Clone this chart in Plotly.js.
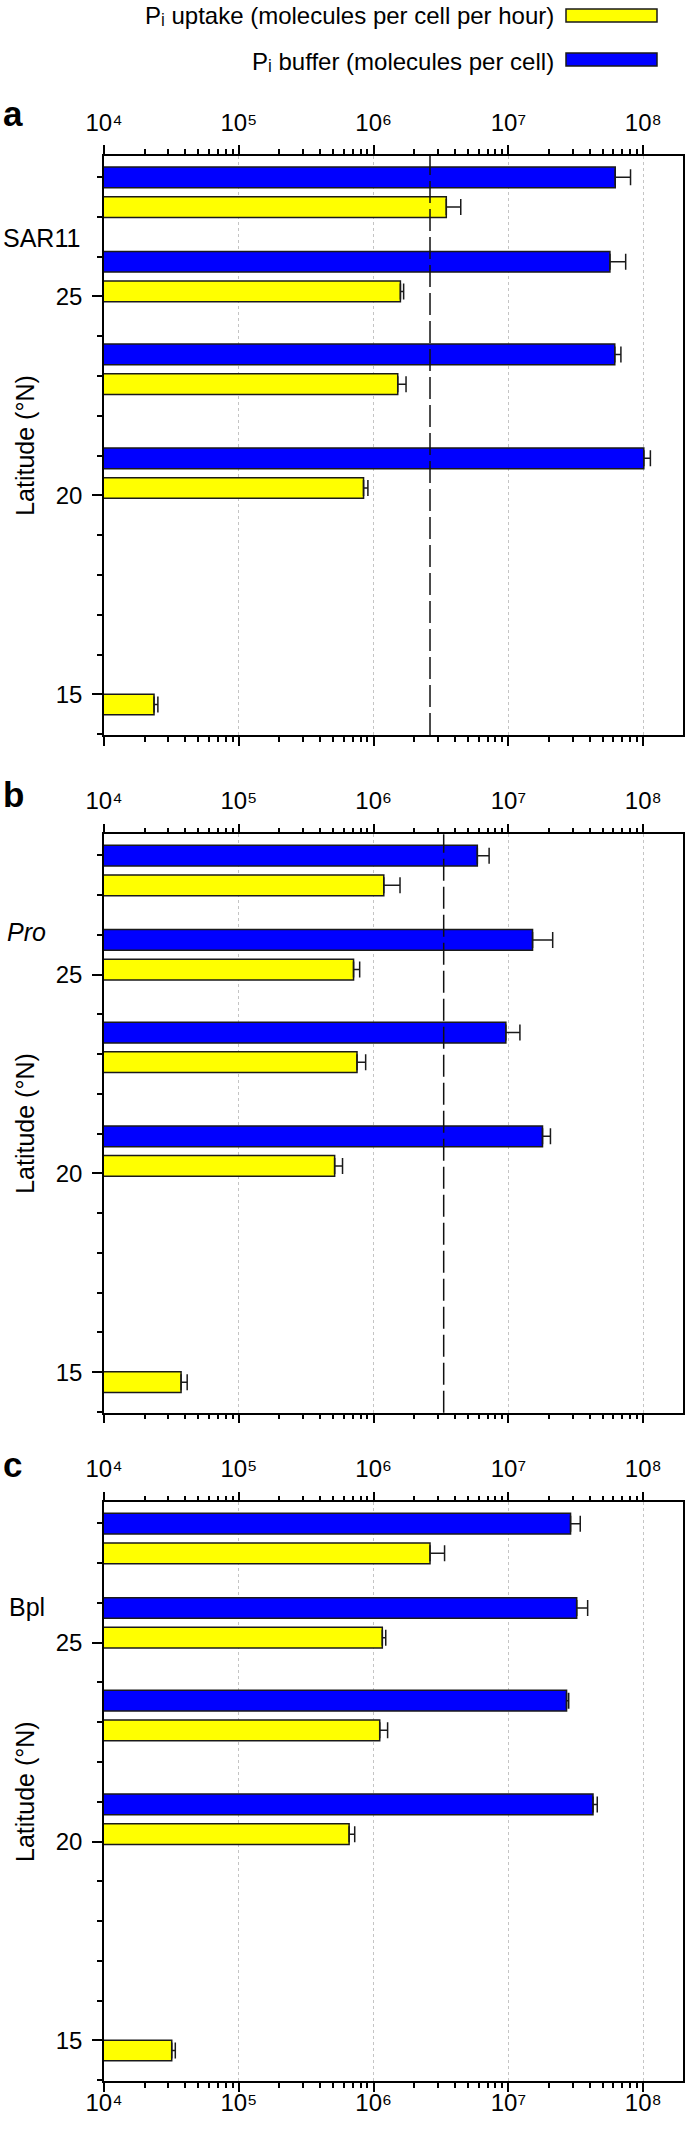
<!DOCTYPE html>
<html><head><meta charset="utf-8">
<script src="https://cdn.plot.ly/plotly-3.0.1.min.js"></script>
<style>html,body{margin:0;padding:0;background:#fff}#chart{width:685px;height:2133px}</style>
</head><body><div id="chart"></div>
<script>
// ---- data ----
const latitudes = [27.62, 25.5, 23.17, 20.56, 15.12];
const organisms = ['SAR11', '<i>Pro</i>', 'Bpl'];
const panelLetters = ['a', 'b', 'c'];

const sar11Uptake    = [3.46e6, 1.58e6, 1.51e6, 8.42e5, 2.35e4];
const sar11UptakeErr = [0.97e6, 0.09e6, 0.23e6, 0.65e5, 0.16e4];
const sar11Buffer    = [6.2e7, 5.66e7, 6.15e7, 1.01e8, null];
const sar11BufferErr = [1.85e7, 1.75e7, 0.68e7, 0.12e8, null];

const proUptake    = [1.19e6, 7.1e5, 7.53e5, 5.14e5, 3.73e4];
const proUptakeErr = [0.38e6, 0.78e5, 1.2e5, 0.74e5, 0.41e4];
const proBuffer    = [5.88e6, 1.51e7, 9.57e6, 1.79e7, null];
const proBufferErr = [1.31e6, 0.62e7, 2.6e6, 0.26e7, null];

const bplUptake    = [2.62e6, 1.16e6, 1.11e6, 6.58e5, 3.18e4];
const bplUptakeErr = [0.74e6, 0.07e6, 0.16e6, 0.66e5, 0.2e4];
const bplBuffer    = [2.89e7, 3.21e7, 2.70e7, 4.24e7, null];
const bplBufferErr = [0.52e7, 0.66e7, 0.1e7, 0.32e7, null];

const thresholds = [2.62e6, 3.31e6, null];

const xTickVals = [1e4, 1e5, 1e6, 1e7, 1e8];
const xTickText = ['10⁴', '10⁵', '10⁶', '10⁷', '10⁸'];
const yTickVals = [15, 20, 25];
const yTickText = ['15', '20', '25'];
const legendNames = ['Pᵢ uptake (molecules per cell per hour)', 'Pᵢ buffer (molecules per cell)'];
const yTitle = 'Latitude (°N)';

// ---- styling / layout ----
const W = 685, H = 2133;
const M = {l: 104, r: 2, t: 156, b: 52};
const PW = W - M.l - M.r, PH = H - M.t - M.b;
const px = x => (x - M.l) / PW;
const py = y => (H - M.b - y) / PH;
const FONT = 'Liberation Sans, Arial, Helvetica, DejaVu Sans, sans-serif';
const YELLOW = '#FFFF00', BLUE = '#0000FF', EDGE = '#1a1a1a';

const minorX = [];
for (let e = 4; e < 9; e++) for (let m = 2; m <= 9; m++) minorX.push(m * Math.pow(10, e));
const minorY = [];
for (let v = 14; v <= 28; v++) if (v % 5 !== 0) minorY.push(v);

const uptake = [sar11Uptake, proUptake, bplUptake];
const uptakeErr = [sar11UptakeErr, proUptakeErr, bplUptakeErr];
const buffer = [sar11Buffer, proBuffer, bplBuffer];
const bufferErr = [sar11BufferErr, proBufferErr, bplBufferErr];

const traces = [];
const sfx = ['', '2', '3'];
for (let i = 0; i < 3; i++) {
  const errStyle = arr => ({type: 'data', symmetric: false, array: arr,
    arrayminus: arr.map(() => 0), color: EDGE, thickness: 1.5, width: 8});
  traces.push({type: 'bar', orientation: 'h', name: legendNames[0],
    x: uptake[i], y: latitudes, offset: -0.633, width: 0.52,
    marker: {color: YELLOW, line: {color: EDGE, width: 1.5}},
    error_x: errStyle(uptakeErr[i]), xaxis: 'x' + sfx[i], yaxis: 'y' + sfx[i],
    showlegend: false});
  traces.push({type: 'bar', orientation: 'h', name: legendNames[1],
    x: buffer[i], y: latitudes, offset: 0.113, width: 0.52,
    marker: {color: BLUE, line: {color: EDGE, width: 1.5}},
    error_x: errStyle(bufferErr[i]), xaxis: 'x' + sfx[i], yaxis: 'y' + sfx[i],
    showlegend: false});
}
traces.push({type: 'scatter', x: [], y: [], xaxis: 'x4', yaxis: 'y3', showlegend: false, hoverinfo: 'skip'});

const tickFont = {family: FONT, size: 24, color: '#000'};
const xCommon = () => ({type: 'log', range: [4, 8.295], tickmode: 'array',
  tickvals: xTickVals, ticktext: xTickText, ticks: 'outside', ticklen: 9, tickwidth: 1.5,
  tickcolor: '#000', showline: true, linewidth: 1.5, linecolor: '#000', mirror: 'allticks',
  showgrid: true, gridcolor: '#c4c4c4', griddash: 'dot', gridwidth: 1, zeroline: false,
  tickfont: tickFont, ticklabelstandoff: 5, side: 'top',
  minor: {tickmode: 'array', tickvals: minorX, ticks: 'outside', ticklen: 5, tickwidth: 1.5,
          tickcolor: '#000', showgrid: false}});
const yCommon = () => ({range: [13.98, 28.53], tickmode: 'array', tickvals: yTickVals,
  ticktext: yTickText, ticks: 'outside', ticklen: 10, tickwidth: 1.5, tickcolor: '#000',
  showline: true, linewidth: 1.5, linecolor: '#000', mirror: true, showgrid: false,
  zeroline: false, tickfont: tickFont, ticklabelstandoff: 5,
  title: {text: yTitle, font: {family: FONT, size: 25, color: '#000'}, standoff: 14},
  minor: {tickmode: 'array', tickvals: minorY, ticks: 'outside', ticklen: 5, tickwidth: 1.5,
          tickcolor: '#000'}});

const panelTops = [156, 834.3, 1502.3], panelBottoms = [735, 1412.7, 2081];
const layout = {width: W, height: H, margin: M, paper_bgcolor: '#fff', plot_bgcolor: '#fff',
  barmode: 'overlay', showlegend: false, font: {family: FONT, size: 22, color: '#000'},
  hovermode: false, annotations: [], shapes: []};
for (let i = 0; i < 3; i++) {
  layout['xaxis' + sfx[i]] = Object.assign(xCommon(), {anchor: 'y' + sfx[i], domain: [0, 1]});
  layout['yaxis' + sfx[i]] = Object.assign(yCommon(), {anchor: 'x' + sfx[i],
    domain: [py(panelBottoms[i]), py(panelTops[i])]});
}
layout.xaxis4 = Object.assign(xCommon(), {side: 'bottom', overlaying: 'x3', anchor: 'y3',
  showgrid: false, showline: false, ticks: '', mirror: false,
  minor: {ticks: '', showgrid: false}});

// dashed thresholds
thresholds.forEach((t, i) => {
  if (t == null) return;
  layout.shapes.push({type: 'line', xref: 'x' + sfx[i], yref: 'y' + sfx[i] + ' domain',
    x0: t, x1: t, y0: 0, y1: 1, line: {color: '#111', width: 1.5, dash: '22px,6px'}});
});

// panel letters and organism labels
const letterY = [113, 794, 1465];
const orgY = [238, 931.7, 1606.7], orgX = [1, 5, 7];
for (let i = 0; i < 3; i++) {
  layout.annotations.push({xref: 'paper', yref: 'paper', x: px(1), y: py(letterY[i]),
    xanchor: 'left', yanchor: 'middle', showarrow: false, text: '<b>' + panelLetters[i] + '</b>',
    font: {family: FONT, size: 35, color: '#000'}});
  layout.annotations.push({xref: 'paper', yref: 'paper', x: px(orgX[i]), y: py(orgY[i]),
    xanchor: 'left', yanchor: 'middle', showarrow: false, text: organisms[i],
    font: {family: FONT, size: 25, color: '#000'}});
}

// legend (text left, swatch right)
const legColors = [YELLOW, BLUE];
const legTextY = [16, 61], legBox = [[9, 22], [53, 66]];
for (let k = 0; k < 2; k++) {
  layout.annotations.push({xref: 'paper', yref: 'paper', x: px(556), y: py(legTextY[k]),
    xanchor: 'right', yanchor: 'middle', showarrow: false, text: legendNames[k],
    font: {family: FONT, size: 24, color: '#000'}});
  layout.shapes.push({type: 'rect', xref: 'paper', yref: 'paper', x0: px(566), x1: px(657),
    y0: py(legBox[k][1]), y1: py(legBox[k][0]), fillcolor: legColors[k],
    line: {color: EDGE, width: 1.5}});
}

Plotly.newPlot('chart', traces, layout, {displayModeBar: false});
</script></body></html>
